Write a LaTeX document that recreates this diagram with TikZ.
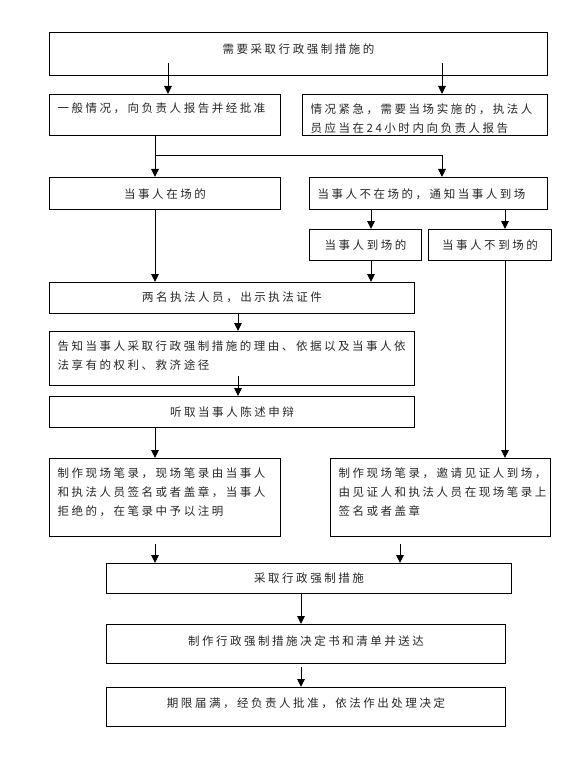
\documentclass[tikz,border=0pt]{standalone}
\usepackage{fontspec}
\newfontfamily\cjk[LetterSpace=22]{Noto Sans CJK SC}
\usetikzlibrary{arrows.meta,calc}
\newcommand\bxL[4]{\parbox[c][#2][t]{#1}{\vspace*{#3}\raggedright\leftskip=8pt\relax #4}}
\newcommand\bxC[4]{\parbox[c][#2][t]{#1}{\vspace*{#3}\centering #4}}
\begin{document}
\begin{tikzpicture}[x=1pt,y=-1pt,
  box/.style={draw, line width=1pt, inner sep=0pt, anchor=north west,
    font=\cjk\fontsize{11.5pt}{19pt}\selectfont, text=black!85},
  conn/.style={line width=1pt},
  arr/.style={line width=1pt, -{Triangle[length=8pt,width=7.5pt]}}]
\useasboundingbox (0,0) rectangle (588,770);
% x positions of connectors
\coordinate (x155) at (155,0);
\coordinate (x168) at (168,0);
\coordinate (x238) at (238,0);
\coordinate (x301) at (301,0);
\coordinate (x371) at (371,0);
\coordinate (x400) at (400,0);
\coordinate (x442) at (442,0);
\coordinate (x505) at (505,0);
\coordinate (jn) at (155,156);
% boxes
\node[box] (A) at (49,32) {\bxC{498pt}{43pt}{10.8pt}{需要采取行政强制措施的}};
\node[box] (B1) at (49,94) {\bxL{231pt}{41pt}{8.8pt}{一般情况，向负责人报告并经批准}};
\node[box] (B2) at (302,94) {\bxL{245pt}{41pt}{8.8pt}{情况紧急，需要当场实施的，执法人\\员应当在24小时内向负责人报告}};
\node[box] (C1) at (49,177) {\bxC{231pt}{32pt}{10.8pt}{当事人在场的}};
\node[box] (C2) at (309,177) {\bxL{238pt}{32pt}{10.8pt}{当事人不在场的，通知当事人到场}};
\node[box] (D1) at (309,229) {\bxC{112pt}{31pt}{9.8pt}{当事人到场的}};
\node[box] (D2) at (428,229) {\bxC{123pt}{31pt}{9.8pt}{当事人不到场的}};
\node[box] (E) at (49,282) {\bxC{365pt}{31pt}{9.8pt}{两名执法人员，出示执法证件}};
\node[box] (F) at (49,331) {\bxL{365pt}{54pt}{8.8pt}{告知当事人采取行政强制措施的理由、依据以及当事人依\\法享有的权利、救济途径}};
\node[box] (G) at (49,396) {\bxC{365pt}{31pt}{9.8pt}{听取当事人陈述申辩}};
\node[box] (H1) at (49,458) {\bxL{231pt}{78pt}{8.8pt}{制作现场笔录，现场笔录由当事人\\和执法人员签名或者盖章，当事人\\拒绝的，在笔录中予以注明}};
\node[box] (H2) at (330,458) {\bxL{220pt}{78pt}{8.8pt}{制作现场笔录，邀请见证人到场，\\由见证人和执法人员在现场笔录上\\签名或者盖章}};
\node[box] (I) at (106,563) {\bxC{405pt}{30pt}{9.8pt}{采取行政强制措施}};
\node[box] (J) at (106,624) {\bxC{399pt}{39pt}{10.8pt}{制作行政强制措施决定书和清单并送达}};
\node[box] (K) at (106,687) {\bxC{399pt}{39pt}{9.8pt}{期限届满，经负责人批准，依法作出处理决定}};
% connectors
\draw[arr] ($(A.south -| x168)+(0,-13)$) -- (B1.north -| x168);
\draw[arr] ($(A.south -| x442)+(0,-13)$) -- (B2.north -| x442);
\draw[conn] (B1.south -| x155) -- (jn);
\draw[arr] (jn) -- (C1.north -| jn);
\draw[arr] (jn) -| (C2.north -| x442);
\draw[arr] (C2.south -| x371) -- (D1.north -| x371);
\draw[arr] (C2.south -| x505) -- (D2.north -| x505);
\draw[arr] (C1.south -| x155) -- (E.north -| x155);
\draw[arr] (D1.south -| x371) -- (E.north -| x371);
\draw[arr] (D2.south -| x505) -- (H2.north -| x505);
\draw[arr] (E.south -| x238) -- (F.north -| x238);
\draw[arr] ($(F.south -| x238)+(0,-10)$) -- (G.north -| x238);
\draw[arr] (G.south -| x155) -- (H1.north -| x155);
\draw[arr] ($(H1.south -| x155)+(0,7)$) -- (I.north -| x155);
\draw[arr] ($(H2.south -| x400)+(0,7)$) -- (I.north -| x400);
\draw[arr] (I.south -| x301) -- (J.north -| x301);
\draw[arr] ($(J.south -| x301)+(0,3)$) -- (K.north -| x301);
\end{tikzpicture}
\end{document}
